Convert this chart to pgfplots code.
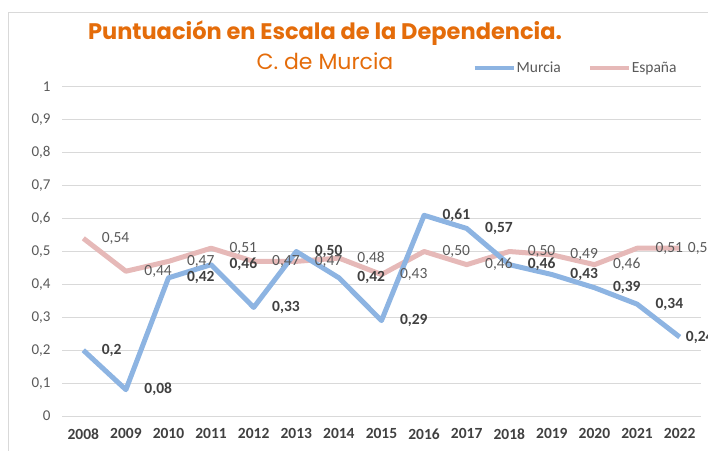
\documentclass[border=0pt]{standalone}
\usepackage{fontspec}
\setmainfont{Carlito}
\newfontfamily\titlefont{Poppins}
\usepackage{pgfplots}
\pgfplotsset{compat=1.18}
\definecolor{murcia}{HTML}{8DB4E2}
\definecolor{espana}{HTML}{E6B9B8}
\definecolor{ttl}{HTML}{E46C0A}
\definecolor{txt}{HTML}{595959}
\definecolor{dtxt}{HTML}{404040}
\definecolor{grd}{HTML}{D9D9D9}
\tikzset{
  espl/.style={anchor=west, xshift=#1, inner sep=0pt, text=txt, font=\fontsize{15.5}{17}\selectfont},
  murl/.style={anchor=west, xshift=#1, inner sep=0pt, text=dtxt, font=\fontsize{15.5}{17}\selectfont\bfseries},
}

\begin{document}
\begin{tikzpicture}
\useasboundingbox (0,0) rectangle (708pt,450pt);
\draw[grd, line width=0.8pt] (8pt,-20pt) -- (8pt,438pt) -- (730pt,438pt);
\begin{axis}[
  at={(62pt,34pt)}, anchor=south west,
  scale only axis, width=639pt, height=329pt,
  xmin=2007.5, xmax=2022.5, ymin=0, ymax=1,
  xtick={2008,...,2022}, ytick={0,0.1,...,1.01},
  x tick label style={/pgf/number format/1000 sep={}, font=\fontsize{15.5}{17}\selectfont\bfseries, text=dtxt, yshift=-9pt},
  y tick label style={/pgf/number format/.cd, use comma, fixed, precision=1, /tikz/.cd, font=\fontsize{15}{17}\selectfont, text=txt, xshift=-8pt},
  /pgf/number format/assume math mode=true,
  major tick length=0pt,
  axis line style={draw=none},
  ymajorgrids, grid style={grd, line width=1pt},
  clip=false,
  legend columns=2,
  legend style={draw=none, fill=none, at={(0.803,1.058)}, anchor=center,
    font=\fontsize{15.5}{17}\selectfont, text=txt,
    nodes={inner sep=1pt},
    /tikz/every even column/.append style={column sep=26pt}},
  legend image code/.code={\draw[#1, line width=4pt] (0pt,0pt) -- (39pt,0pt);},
  point meta=explicit symbolic,
]
\addlegendimage{murcia}
\addlegendentry{Murcia}
\addlegendimage{espana}
\addlegendentry{España}
% España
\addplot[espana, line width=5pt, line join=round, forget plot,
  nodes near coords, nodes near coords style={espl=16pt}]
  coordinates {(2008,0.54)[0,54] (2009,0.44)[0,44] (2010,0.47)[0,47] (2011,0.51)[0,51]
    (2012,0.47)[0,47] (2013,0.47)[0,47] (2014,0.48)[0,48] (2015,0.43)[0,43]
    (2016,0.50)[0,50] (2017,0.46)[0,46] (2018,0.50)[0,50] (2019,0.49)[0,49]
    (2020,0.46)[0,46] (2021,0.51)[0,51] (2022,0.51)[]};
\addplot[draw=none, forget plot, nodes near coords, nodes near coords style={espl=8pt}]
  coordinates {(2022,0.51)[0,51]};
% Murcia
\addplot[murcia, line width=5pt, line join=round, forget plot,
  nodes near coords, nodes near coords style={murl=16pt}]
  coordinates {(2008,0.20)[0,2] (2009,0.08)[0,08] (2010,0.42)[0,42] (2011,0.46)[0,46]
    (2012,0.33)[0,33] (2013,0.50)[0,50] (2014,0.42)[0,42] (2015,0.29)[0,29]
    (2016,0.61)[0,61] (2017,0.57)[0,57] (2018,0.46)[0,46] (2019,0.43)[0,43]
    (2020,0.39)[0,39] (2021,0.34)[0,34] (2022,0.24)[]};
\addplot[draw=none, forget plot, nodes near coords, nodes near coords style={murl=6pt}]
  coordinates {(2022,0.24)[0,24]};
\end{axis}
\node[text=ttl, font=\titlefont\bfseries\fontsize{22.5}{26}\selectfont] at (325pt,417pt) {Puntuación en Escala de la Dependencia.};
\node[text=ttl, font=\titlefont\fontsize{22}{26}\selectfont] at (325pt,389pt) {C. de Murcia};
\end{tikzpicture}
\end{document}
